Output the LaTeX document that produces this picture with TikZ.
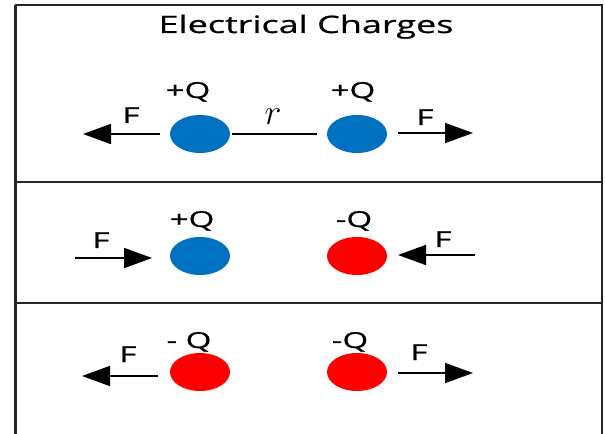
\documentclass[tikz,border=0pt]{standalone}
\usepackage{fontspec}
\setmainfont{Open Sans}
\newfontfamily\wide[FakeStretch=1.5,FakeBold=0.8]{Open Sans}
\usetikzlibrary{shapes.geometric,arrows.meta}
\definecolor{qblue}{HTML}{0070C0}
\definecolor{qred}{HTML}{FF0000}
\begin{document}
\begin{tikzpicture}[x=1bp,y=-1bp,
  charge/.style={ellipse, minimum width=60bp, minimum height=38bp, inner sep=0pt},
  poscharge/.style={charge, fill=qblue},
  negcharge/.style={charge, fill=qred},
  lab/.style={font=\wide\fontsize{22bp}{26bp}\selectfont, inner sep=0pt, anchor=base},
  ttl/.style={font=\wide\fontsize{24bp}{28bp}\selectfont, inner sep=0pt, anchor=base},
  force/.style={line width=1.8bp, -{Triangle[length=28bp,width=20bp]}},
  frame/.style={line width=2bp, draw=black!85}]
\useasboundingbox (0,0) rectangle (605,434);
% frame
\draw[frame, line width=3bp] (15,5) -- (15,434);
\draw[frame] (15,5) -- (602,5) -- (602,434);
\draw[frame] (15,182) -- (602,182);
\draw[frame] (15,303) -- (602,303);
% title
\node[ttl] (title) at (306,33) {Electrical Charges};
% row 1
\node[poscharge] (c1) at (200,134) {};
\node[poscharge] (c2) at (357,134) {};
\node[lab] (q1) at (188,98) {+Q};
\node[lab] (q2) at (353,98) {+Q};
\node[inner sep=0pt, anchor=base, font=\fontsize{24bp}{28bp}\selectfont] (r) at (273,125) {\scalebox{1.45}{$r$}};
\draw[line width=1.2bp, shorten >=10bp, shorten <=2bp] (c1) -- (c2);
\coordinate (a1s) at (160,134); \coordinate (a1e) at (83,134);
\coordinate (a2s) at (398,133); \coordinate (a2e) at (473,133);
\draw[force] (a1s) -- (a1e);
\draw[force] (a2s) -- (a2e);
\node[lab] (f1) at (131,123) {F};
\node[lab] (f2) at (425,125) {F};
% row 2
\node[poscharge] (c3) at (200,256) {};
\node[negcharge] (c4) at (357,256) {};
\node[lab] (q3) at (192,227) {+Q};
\node[lab] (q4) at (354,227) {-Q};
\coordinate (b1s) at (75,258); \coordinate (b1e) at (152,258);
\coordinate (b2s) at (475,255); \coordinate (b2e) at (398,255);
\draw[force] (b1s) -- (b1e);
\draw[force] (b2s) -- (b2e);
\node[lab] (f3) at (101,248) {F};
\node[lab] (f4) at (443,247) {F};
% row 3
\node[negcharge] (c5) at (200,372) {};
\node[negcharge] (c6) at (357,372) {};
\node[lab] (q5) at (189,348) {- Q};
\node[lab] (q6) at (350,348) {-Q};
\coordinate (d1s) at (158,376); \coordinate (d1e) at (82,376);
\coordinate (d2s) at (398,373); \coordinate (d2e) at (473,373);
\draw[force] (d1s) -- (d1e);
\draw[force] (d2s) -- (d2e);
\node[lab] (f5) at (128,362) {F};
\node[lab] (f6) at (419,360) {F};
\end{tikzpicture}
\end{document}
